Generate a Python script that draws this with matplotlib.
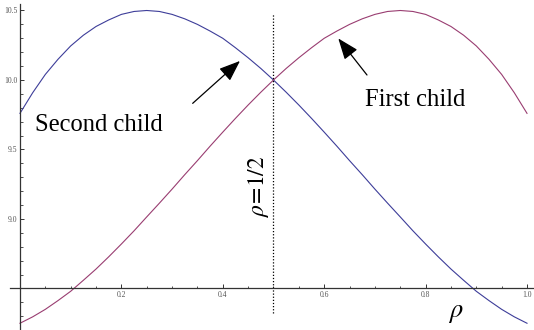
import matplotlib
matplotlib.use("Agg")
import matplotlib.pyplot as plt
from matplotlib.ticker import MultipleLocator

# values (rho step 0.025)
rho = [0.0, 0.025, 0.05, 0.075, 0.1, 0.125, 0.15, 0.175, 0.2, 0.225,
       0.25, 0.275, 0.3, 0.325, 0.35, 0.375, 0.4, 0.425, 0.45, 0.475,
       0.5, 0.525, 0.55, 0.575, 0.6, 0.625, 0.65, 0.675, 0.7, 0.725,
       0.75, 0.775, 0.8, 0.825, 0.85, 0.875, 0.9, 0.925, 0.95, 0.975, 1.0]

second_child = [9.76, 9.908, 10.04, 10.149, 10.245, 10.322, 10.385, 10.432, 10.472, 10.493,
                10.50, 10.493, 10.472, 10.44, 10.40, 10.352, 10.30, 10.232, 10.16, 10.083,
                10.00, 9.912, 9.82, 9.724, 9.625, 9.524, 9.42, 9.319, 9.215, 9.114,
                9.015, 8.915, 8.82, 8.728, 8.64, 8.559, 8.48, 8.413, 8.35, 8.296, 8.25]

first_child = [8.25, 8.296, 8.35, 8.413, 8.48, 8.559, 8.64, 8.728, 8.82, 8.915,
               9.015, 9.114, 9.215, 9.319, 9.42, 9.524, 9.625, 9.724, 9.82, 9.912,
               10.00, 10.083, 10.16, 10.232, 10.30, 10.352, 10.40, 10.44, 10.472, 10.493,
               10.50, 10.493, 10.472, 10.432, 10.385, 10.322, 10.245, 10.149, 10.04, 9.908, 9.76]

x_ticks = [0.2, 0.4, 0.6, 0.8, 1.0]
y_ticks = [9.0, 9.5, 10.0, 10.5]

fig = plt.figure(figsize=(5.34, 3.30), dpi=100)
ax = fig.add_axes([0, 0, 1, 1])
ax.patch.set_alpha(0)

ax.plot(rho, second_child, color="#3d3d99", lw=0.8)
ax.plot(rho, first_child, color="#993d71", lw=0.8)

# dotted line at rho = 1/2
ax.plot([0.5, 0.5], [8.324, 10.475], color="black", lw=0.9, ls=(0, (1, 1.5)))

ax.set_xlim(-0.0394, 1.0138)
ax.set_ylim(8.2014, 10.5755)

for s in ["top", "right"]:
    ax.spines[s].set_visible(False)
ax.spines["left"].set_position(("data", 0))
ax.spines["bottom"].set_position(("data", 8.5))
ax.spines["left"].set_bounds(8.2014, 10.545)
ax.spines["bottom"].set_bounds(-0.02, 1.012)
for s in ["left", "bottom"]:
    ax.spines[s].set_color("#333333")
    ax.spines[s].set_linewidth(0.9)

ax.set_xticks(x_ticks)
ax.set_xticklabels(["%.1f" % v for v in x_ticks])
ax.set_yticks(y_ticks)
ax.set_yticklabels(["%.1f" % v for v in y_ticks])
ax.xaxis.set_minor_locator(MultipleLocator(0.05))
ax.yaxis.set_minor_locator(MultipleLocator(0.1))
ax.tick_params(which="major", direction="in", length=3, width=0.7, color="#333333",
               labelsize=5.5, labelcolor="#555555", pad=2)
ax.tick_params(which="minor", direction="in", length=1.8, width=0.6, color="#333333")
for lab in ax.get_xticklabels() + ax.get_yticklabels():
    lab.set_family("Liberation Serif")

serif = "Liberation Serif"
ax.text(0.0296, 9.633, "Second child", fontsize=17.7, family=serif,
        ha="left", va="baseline")
ax.text(0.6805, 9.813, "First child", fontsize=17.7, family=serif,
        ha="left", va="baseline")

plt.rcParams["mathtext.fontset"] = "stix"
ax.text(0.4714, 9.234, r"$\rho\!=\!1/2$", fontsize=17, rotation=90,
        ha="center", va="center")
ax.text(0.86, 8.331, r"$\rho$", fontsize=19, ha="center", va="center")

arrow = dict(arrowstyle="-|>,head_length=1.3,head_width=0.5", color="black",
             lw=0.9, shrinkA=0, shrinkB=0)
ax.annotate("", xy=(0.4339, 10.137), xytext=(0.3406, 9.832), arrowprops=arrow)
ax.annotate("", xy=(0.6278, 10.299), xytext=(0.6844, 10.036), arrowprops=arrow)

fig.savefig("out.png", dpi=100)
